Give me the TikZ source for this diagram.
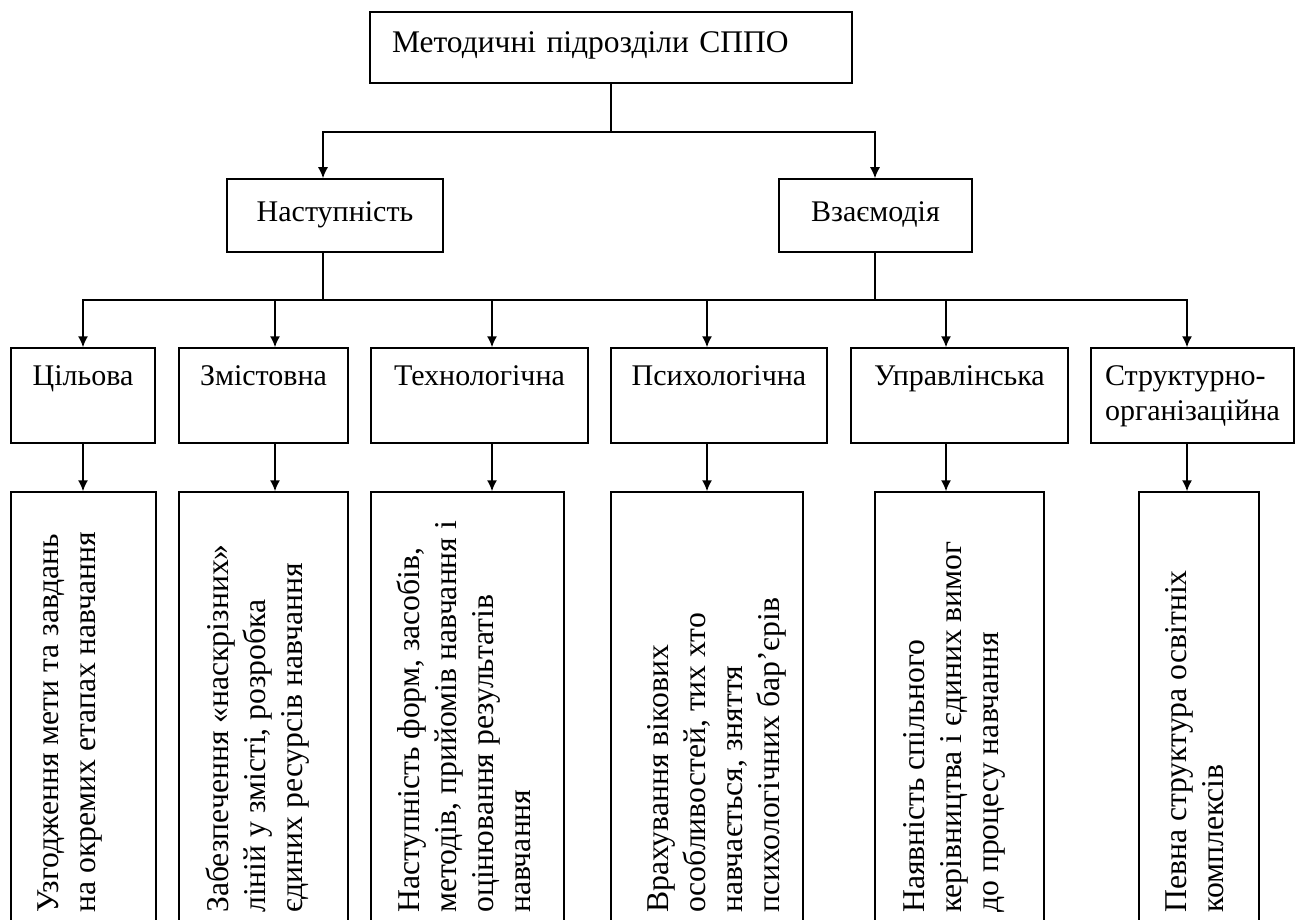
\documentclass[tikz,border=0pt]{standalone}
\usepackage{fontspec}
\setmainfont{Liberation Serif}
\usetikzlibrary{arrows.meta}

\begin{document}
\begin{tikzpicture}[x=1pt,y=-1pt,font=\fontsize{30}{35}\selectfont]
	\tikzstyle{box}=[draw,line width=1.5pt,inner sep=0]
	\tikzstyle{head}=[box,text height=43pt,text depth=30pt]
	\tikzstyle{sub}=[box,text height=37pt,text depth=58pt]
	\tikzstyle{res}=[box,minimum height=468pt]
	\tikzstyle{vtext}=[rotate=90,anchor=north west,align=left,inner sep=0,font=\fontsize{31.7}{37}\selectfont]
	\tikzstyle{line}=[line width=1.5pt,line cap=rect]
	\tikzstyle{edge}=[-{Latex[length=11pt,width=10pt]},line width=1.5pt]
	
	\useasboundingbox (0,0) rectangle (1296,920);
	\clip (0,0) rectangle (1296,920);
	
	\node [box,text width=438pt,inner xsep=22pt,align=left,text height=41pt,text depth=30pt,font=\fontsize{31.5}{36}\selectfont] (top) at (611,47.5) {Методичні підрозділи СППО};
	
	\node [head,minimum width=216pt] (nas) at (335,215.5) {Наступність};
	\node [head,minimum width=193pt] (vz) at (875.5,215.5) {Взаємодія};
	
	\node [sub,minimum width=144pt] (c1) at (83,395.5) {Цільова};
	\node [sub,minimum width=169pt] (c2) at (263.5,395.5) {Змістовна};
	\node [sub,minimum width=217pt] (c3) at (479.5,395.5) {Технологічна};
	\node [sub,minimum width=216pt] (c4) at (719,395.5) {Психологічна};
	\node [sub,minimum width=217pt] (c5) at (959.5,395.5) {Управлінська};
	\node [sub,minimum width=203pt,align=left,text height=72pt,text depth=23pt] (c6) at (1192.5,395.5) {Структурно-\\організаційна};
	
	\node [res,minimum width=145pt] (d1) at (83.5,726) {};
	\node [res,minimum width=169pt] (d2) at (263.5,726) {};
	\node [res,minimum width=193pt] (d3) at (467.5,726) {};
	\node [res,minimum width=192pt] (d4) at (707,726) {};
	\node [res,minimum width=169pt] (d5) at (959.5,726) {};
	\node [res,minimum width=120pt] (d6) at (1199,726) {};
	
	\node [vtext] (t1) at (38,913) {Узгодження мети та завдань\\на окремих етапах навчання};
	\node [vtext] (t2) at (206,913) {Забезпечення «наскрізних»\\ліній у змісті, розробка\\єдиних ресурсів навчання};
	\node [vtext] (t3) at (397,913) {Наступність форм, засобів,\\методів, прийомів навчання і\\оцінювання результатів\\навчання};
	\node [vtext] (t4) at (647,913) {Врахування вікових\\особливостей, тих хто\\навчається, зняття\\психологічних бар’єрів};
	\node [vtext] (t5) at (903,913) {Наявність спільного\\керівництва і єдиних вимог\\до процесу навчання};
	\node [vtext] (t6) at (1165,913) {Певна структура освітніх\\комплексів};
	
	\coordinate (j0) at (611,132);
	\coordinate (j1) at (323,132);
	\coordinate (j2) at (875,132);
	\coordinate (s1) at (83,300);
	\coordinate (s2) at (275,300);
	\coordinate (s3) at (492,300);
	\coordinate (s4) at (707,300);
	\coordinate (s5) at (946,300);
	\coordinate (s6) at (1187,300);
	
	\draw[line] (top.south) -- (j0);
	\draw[line] (j1) -- (j2);
	\draw[edge] (j1) -- (j1 |- nas.north);
	\draw[edge] (j2) -- (j2 |- vz.north);
	\draw[line] (j1 |- nas.south) -- (j1 |- s1);
	\draw[line] (j2 |- vz.south) -- (j2 |- s1);
	\draw[line] (s1) -- (s6);
	
	\draw[edge] (s1) -- (s1 |- c1.north);
	\draw[edge] (s2) -- (s2 |- c2.north);
	\draw[edge] (s3) -- (s3 |- c3.north);
	\draw[edge] (s4) -- (s4 |- c4.north);
	\draw[edge] (s5) -- (s5 |- c5.north);
	\draw[edge] (s6) -- (s6 |- c6.north);
	
	\draw[edge] (s1 |- c1.south) -- (s1 |- d1.north);
	\draw[edge] (s2 |- c2.south) -- (s2 |- d2.north);
	\draw[edge] (s3 |- c3.south) -- (s3 |- d3.north);
	\draw[edge] (s4 |- c4.south) -- (s4 |- d4.north);
	\draw[edge] (s5 |- c5.south) -- (s5 |- d5.north);
	\draw[edge] (s6 |- c6.south) -- (s6 |- d6.north);
\end{tikzpicture}
\end{document}
